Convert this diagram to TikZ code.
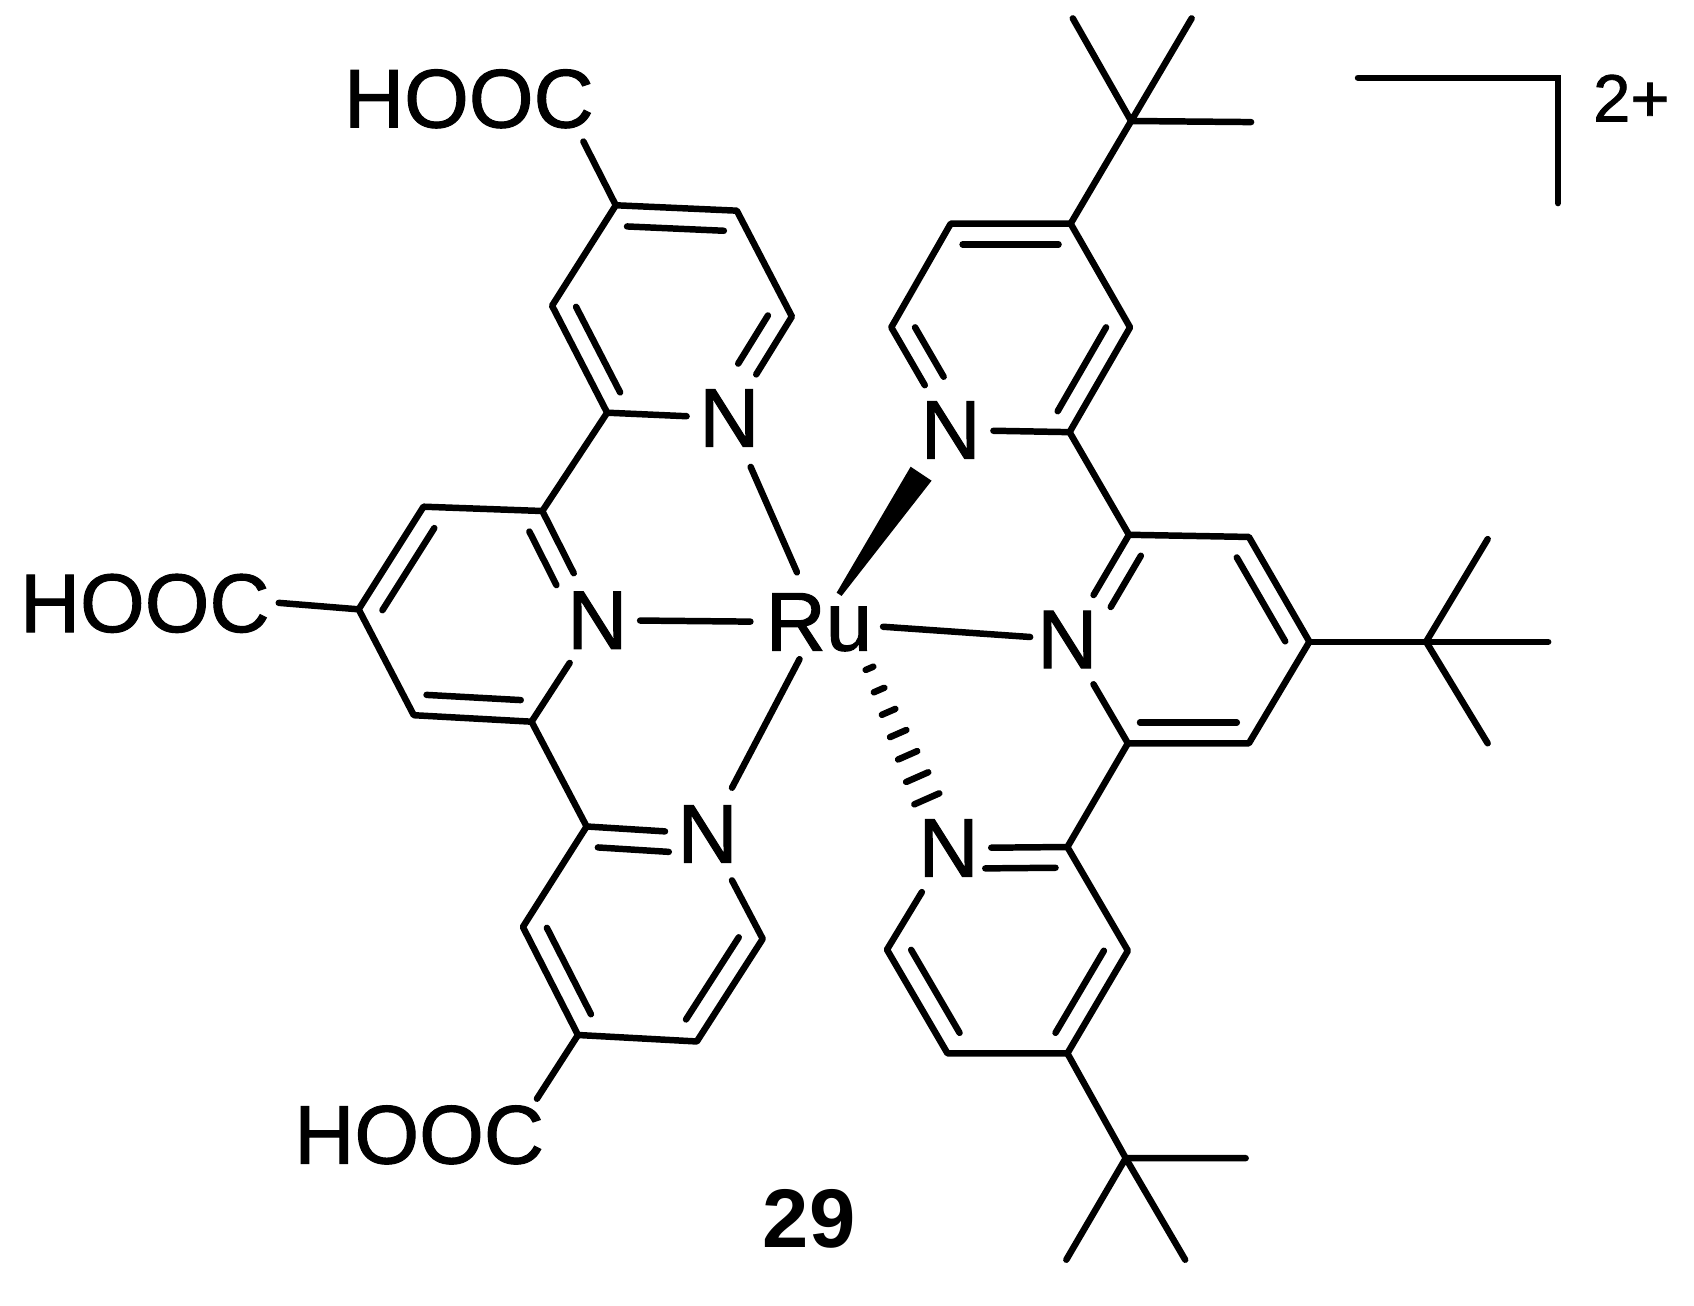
\documentclass[tikz,border=0pt]{standalone}
\usepackage{fontspec}
\setmainfont{Liberation Sans}
\newfontfamily\labfont[FakeBold=1.2]{Liberation Sans}
\usetikzlibrary{calc,shapes.geometric}
\tikzset{
  bondline/.style={line width=6pt,line cap=round,line join=round,black},
  hetero/.style={ellipse,inner sep=0pt,minimum width=72pt,minimum height=104pt,font=\labfont\fontsize{77}{77}\selectfont},
  metal/.style={inner sep=0pt,font=\labfont\fontsize{77}{77}\selectfont},
  acid/.style={inner sep=0pt,font=\labfont\fontsize{77}{77}\selectfont},
  charge/.style={inner sep=0pt,font=\labfont\fontsize{62}{62}\selectfont},
  cmpd/.style={inner sep=0pt,font=\fontsize{77}{77}\selectfont\bfseries},
}
% inner line of a double bond: {from}{to}{ring centre}{shorten end}
\newcommand{\dbl}[4]{\draw[bondline,shorten >=#4pt] ($(#3)!0.8!(#1)$) -- ($(#3)!0.8!(#2)$);}
\begin{document}
\begin{tikzpicture}[x=1pt,y=-1pt]
\useasboundingbox (0,0) rectangle (1568,1208);
% labels
\node[metal] (Ru) at (758,576) {Ru};
\node[hetero] (NA) at (675,387) {N};
\node[hetero] (NB) at (553,574) {N};
\node[hetero] (NC) at (655,772) {N};
\node[hetero] (ND) at (880,398) {N};
\node[hetero] (NE) at (988,592) {N};
\node[hetero] (NF) at (878,785) {N};
\node[acid,anchor=base] (H1) at (434,118) {HOOC};
\node[acid,anchor=base] (H2) at (134,585) {HOOC};
\node[acid,anchor=base] (H3) at (388,1077) {HOOC};
\node[charge,anchor=base] (chg) at (1510,112.5) {2+};
\node[cmpd,anchor=base] (num) at (749,1155) {29};
% ring A
\coordinate (a1) at (570,190); \coordinate (a2) at (682,195); \coordinate (a3) at (733,293);
\coordinate (a5) at (562,382); \coordinate (a6) at (511,283); \coordinate (ac) at (622,288);
\coordinate (h1e) at (540,131);
% ring B
\coordinate (b1) at (502,473); \coordinate (b2) at (392,469); \coordinate (b3) at (332,564);
\coordinate (b4) at (383,662); \coordinate (b5) at (492,668); \coordinate (bc) at (442,568);
\coordinate (h2e) at (258,558);
% ring C
\coordinate (c1) at (543,765); \coordinate (c3) at (706,869); \coordinate (c4) at (645,964);
\coordinate (c5) at (535,958); \coordinate (c6) at (484,858); \coordinate (cc) at (595,862);
\coordinate (h3e) at (497,1017);
% ring D
\coordinate (d1) at (991,207); \coordinate (d2) at (880,207); \coordinate (d3) at (825,303);
\coordinate (d5) at (990,400); \coordinate (d6) at (1046,303); \coordinate (dc) at (935,303);
\coordinate (t1) at (1047,112); \coordinate (t1a) at (993,17); \coordinate (t1b) at (1103,17); \coordinate (t1c) at (1158,113);
% ring E
\coordinate (e1) at (1045,495); \coordinate (e2) at (1156,497); \coordinate (e3) at (1212,594);
\coordinate (e4) at (1156,688); \coordinate (e5) at (1044,688); \coordinate (ec) at (1100,592);
\coordinate (t2) at (1320,594); \coordinate (t2a) at (1377,499); \coordinate (t2b) at (1377,688); \coordinate (t2c) at (1433,594);
% ring F
\coordinate (f1) at (988,784); \coordinate (f2) at (1044,880); \coordinate (f3) at (988,975);
\coordinate (f4) at (877,975); \coordinate (f5) at (821,879); \coordinate (fc) at (933,880);
\coordinate (t3) at (1042,1072); \coordinate (t3a) at (1153,1072); \coordinate (t3b) at (987,1166); \coordinate (t3c) at (1097,1166);
% bracket
\coordinate (br1) at (1257,72); \coordinate (br2) at (1442,72); \coordinate (br3) at (1442,188);
% outer bonds
\draw[bondline] (h1e) -- (a1) -- (a2) -- (a3) -- (NA) -- (a5) -- (a6) -- (a1);
\draw[bondline] (a5) -- (b1) -- (b2) -- (b3) -- (b4) -- (b5) -- (NB) -- (b1);
\draw[bondline] (h2e) -- (b3);
\draw[bondline] (b5) -- (c1) -- (NC) -- (c3) -- (c4) -- (c5) -- (c6) -- (c1);
\draw[bondline] (c5) -- (h3e);
\draw[bondline] (t1a) -- (t1) -- (t1b); \draw[bondline] (t1) -- (t1c); \draw[bondline] (t1) -- (d1);
\draw[bondline] (d1) -- (d2) -- (d3) -- (ND) -- (d5) -- (d6) -- (d1);
\draw[bondline] (d5) -- (e1) -- (e2) -- (e3) -- (e4) -- (e5) -- (NE) -- (e1);
\draw[bondline] (e3) -- (t2) -- (t2c); \draw[bondline] (t2a) -- (t2) -- (t2b);
\draw[bondline] (e5) -- (f1) -- (f2) -- (f3) -- (f4) -- (f5) -- (NF) -- (f1);
\draw[bondline] (f3) -- (t3) -- (t3a); \draw[bondline] (t3b) -- (t3) -- (t3c);
\draw[bondline,line join=miter] (br1) -- (br2) -- (br3);
% inner lines of double bonds
\dbl{a1}{a2}{ac}{0}
\dbl{a3}{NA}{ac}{36}
\dbl{a6}{a5}{ac}{0}
\dbl{b1}{NB}{bc}{35}
\dbl{b2}{b3}{bc}{0}
\dbl{b4}{b5}{bc}{0}
\dbl{c1}{NC}{cc}{24}
\dbl{c3}{c4}{cc}{0}
\dbl{c5}{c6}{cc}{0}
\dbl{d1}{d2}{dc}{0}
\dbl{d3}{ND}{dc}{35}
\dbl{d5}{d6}{dc}{0}
\dbl{e1}{NE}{ec}{35}
\dbl{e2}{e3}{ec}{0}
\dbl{e4}{e5}{ec}{0}
\dbl{f1}{NF}{fc}{23}
\dbl{f2}{f3}{fc}{0}
\dbl{f4}{f5}{fc}{0}
% metal-ligand bonds
\draw[bondline,shorten <=21pt] (Ru) -- (NA);
\draw[bondline,shorten <=14pt] (Ru) -- (NB);
\draw[bondline,shorten <=8pt] (Ru) -- (NC);
\draw[bondline,shorten <=10pt,shorten >=-5pt] (Ru) -- (NE);
% wedge to ND
\coordinate (wt1) at (774.4,548.6); \coordinate (wt2) at (779,551.6);
\coordinate (wa) at (842.9,432); \coordinate (wb) at (862.3,444.9);
\fill[black] (wt1) -- (wa) -- (wb) -- (wt2) -- cycle;
% hashed bond to NF
\draw[bondline] (801.3,620.1) -- (808.3,617.1);
\draw[bondline] (808.8,640.8) -- (818.5,636.6);
\draw[bondline] (816.3,661.6) -- (828.7,656.2);
\draw[bondline] (823.8,682.3) -- (838.9,675.7);
\draw[bondline] (831.3,703.0) -- (849.0,695.2);
\draw[bondline] (838.8,723.8) -- (859.2,714.8);
\draw[bondline] (846.3,744.5) -- (869.4,734.3);
\end{tikzpicture}
\end{document}
